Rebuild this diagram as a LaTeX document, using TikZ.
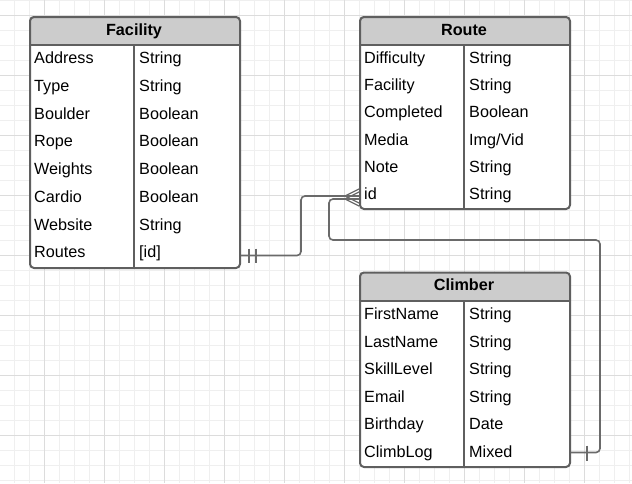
\documentclass[tikz,border=0pt]{standalone}
\usepackage{fontspec}
\setmainfont{Liberation Sans}
\usetikzlibrary{calc}
\definecolor{minorgrid}{HTML}{EFEFEF}
\definecolor{majorgrid}{HTML}{DCDCDC}
\definecolor{frame}{HTML}{5F5F5F}
\definecolor{hdrfill}{HTML}{CCCCCC}
\definecolor{connc}{HTML}{6A6A6A}
\begin{document}
\begin{tikzpicture}[x=1pt,y=-1pt,
  tblframe/.style={draw=frame, line width=2pt, rounded corners=4pt, rectangle, inner sep=0pt},
  divline/.style={draw=frame, line width=1.6pt},
  cell/.style={anchor=base west, inner sep=0pt, font=\fontsize{16.2}{19}\selectfont, text=black},
  hdrtext/.style={anchor=base, inner sep=0pt, font=\fontsize{16.2}{19}\selectfont\bfseries, text=black},
  conn/.style={draw=connc, line width=1.6pt, rounded corners=4pt},
  tick/.style={draw=connc, line width=1.4pt}]
\useasboundingbox (0,0) rectangle (632,483);
\fill[white] (0,0) rectangle (632,483);
% grid
\foreach \x in {14,29,...,629} \draw[minorgrid, line width=0.9pt] (\x,0) -- (\x,483);
\foreach \y in {0,15,...,480} \draw[minorgrid, line width=0.9pt] (0,\y) -- (632,\y);
\foreach \x in {44,104,...,584} \draw[majorgrid, line width=0.9pt] (\x,0) -- (\x,483);
\foreach \y in {15,75,...,435} \draw[majorgrid, line width=0.9pt] (0,\y) -- (632,\y);

% ---------- Facility ----------
\begin{scope}
\clip[rounded corners=4pt] (29,16) rectangle (239,267);
\fill[white] (29,16) rectangle (239,267);
\fill[hdrfill] (29,16) rectangle (239,45);
\end{scope}
\node[hdrtext] (facH) at (134,35.5) {Facility};
\draw[divline] (29,45) -- (239,45);
\draw[divline] (134,45) -- (134,267);
\foreach \k/\v [count=\i] in {Address/String, Type/String, Boulder/Boolean, Rope/Boolean, Weights/Boolean, Cardio/Boolean, Website/String, Routes/{[id]}} {
  \node[cell] (fk\i) at (34,{45+27.75*(\i-0.5)+4.8}) {\k};
  \node[cell] (fv\i) at (139,{45+27.75*(\i-0.5)+4.8}) {\v};
}
\node[tblframe, minimum width=210pt, minimum height=251pt, anchor=north west] (fac) at (29,16) {};

% ---------- Route ----------
\begin{scope}
\clip[rounded corners=4pt] (359,16) rectangle (569,208);
\fill[white] (359,16) rectangle (569,208);
\fill[hdrfill] (359,16) rectangle (569,45);
\end{scope}
\node[hdrtext] (routeH) at (464,35.5) {Route};
\draw[divline] (359,45) -- (569,45);
\draw[divline] (464,45) -- (464,208);
\foreach \k/\v [count=\i] in {Difficulty/String, Facility/String, Completed/Boolean, Media/Img\slash Vid, Note/String, id/String} {
  \node[cell] (rk\i) at (364,{45+27.17*(\i-0.5)+5}) {\k};
  \node[cell] (rv\i) at (469,{45+27.17*(\i-0.5)+5}) {\v};
}
\node[tblframe, minimum width=210pt, minimum height=192pt, anchor=north west] (route) at (359,16) {};

% ---------- Climber ----------
\begin{scope}
\clip[rounded corners=4pt] (359,271.5) rectangle (569,466);
\fill[white] (359,271.5) rectangle (569,466);
\fill[hdrfill] (359,271.5) rectangle (569,301);
\end{scope}
\node[hdrtext] (climbH) at (464,290) {Climber};
\draw[divline] (359,301) -- (569,301);
\draw[divline] (464,301) -- (464,466);
\foreach \k/\v [count=\i] in {FirstName/String, LastName/String, SkillLevel/String, Email/String, Birthday/Date, ClimbLog/Mixed} {
  \node[cell] (ck\i) at (364,{301+27.5*(\i-0.5)+4.8}) {\k};
  \node[cell] (cv\i) at (469,{301+27.5*(\i-0.5)+4.8}) {\v};
}
\node[tblframe, minimum width=210pt, minimum height=194.5pt, anchor=north west] (climb) at (359,271.5) {};

% ---------- Connectors ----------
\coordinate (fa) at (fac.east |- 0,255.5);
\coordinate (ra) at (route.west |- 0,196);
\coordinate (rb) at (route.west |- 0,199);
\coordinate (ca) at (climb.east |- 0,452.5);

% Facility.Routes -> Route.id
\draw[conn] (fa) -- ++(60,0) |- ($(ra)+(-14,0)$) -- (ra);
\draw[tick] ($(fa)+(8,-7)$) -- ++(0,14);
\draw[tick] ($(fa)+(15,-7)$) -- ++(0,14);
\draw[connc, line width=1.3pt] ($(ra)+(-14,0)$) -- ($(ra)+(0,-7)$);
\draw[connc, line width=1.3pt] ($(ra)+(-14,0)$) -- ($(ra)+(0,7)$);

% Climber.ClimbLog -> Route.id
\draw[conn] (ca) -| (600,240) -| (329,0 |- rb) -- (rb);
\draw[tick] ($(ca)+(16,-7)$) -- ++(0,15);
\draw[connc, line width=1.3pt] ($(rb)+(-14,0)$) -- ($(rb)+(0,-7)$);
\draw[connc, line width=1.3pt] ($(rb)+(-14,0)$) -- ($(rb)+(0,7)$);
\end{tikzpicture}
\end{document}
